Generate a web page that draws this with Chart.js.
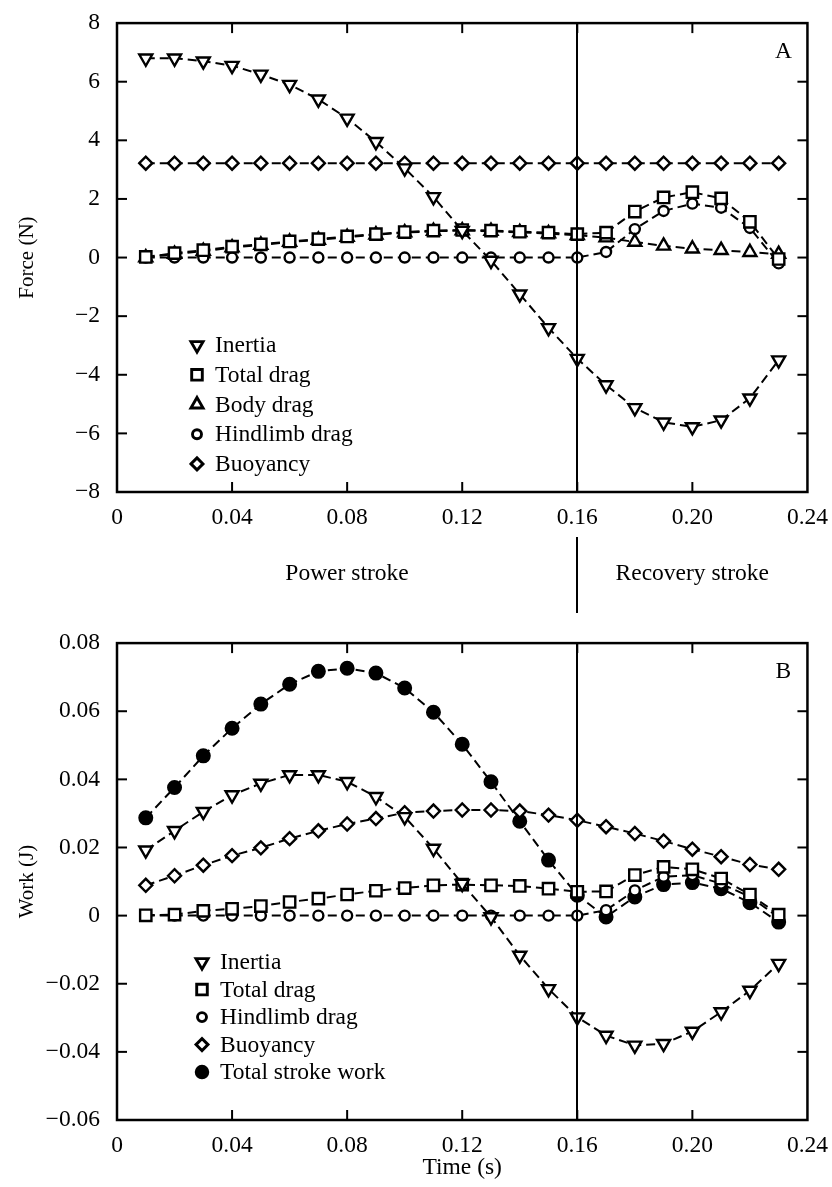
<!DOCTYPE html>
<html>
<head>
<meta charset="utf-8">
<script src="https://cdn.jsdelivr.net/npm/chart.js@4.4.0/dist/chart.umd.min.js"></script>
<style>
  html, body { margin: 0; padding: 0; background: #fff; }
  #wrap { position: relative; width: 832px; height: 1187px; }
  canvas { position: absolute; left: 0; }
  #forceChart { top: 0; }
  #workChart { top: 620px; }
</style>
</head>
<body>
<div id="wrap">
  <canvas id="forceChart" width="832" height="620"></canvas>
  <canvas id="workChart" width="832" height="567"></canvas>
</div>
<script>
// sample times (s)
const times = [0.01, 0.02, 0.03, 0.04, 0.05, 0.06, 0.07, 0.08, 0.09, 0.10, 0.11, 0.12,
               0.13, 0.14, 0.15, 0.16, 0.17, 0.18, 0.19, 0.20, 0.21, 0.22, 0.23];
const timeTicks = [0, 0.04, 0.08, 0.12, 0.16, 0.20, 0.24];
const forceTicks = [8, 6, 4, 2, 0, -2, -4, -6, -8];
const workTicks = [0.08, 0.06, 0.04, 0.02, 0, -0.02, -0.04, -0.06];
const strokeSplit = 0.16;
const strokeLabels = ['Power stroke', 'Recovery stroke'];

// A - forces (N)
const inertiaForce = [6.8, 6.8, 6.7, 6.55, 6.25, 5.9, 5.4, 4.75, 3.95, 3.05, 2.07, 0.92,
                      -0.1, -1.25, -2.4, -3.45, -4.35, -5.13, -5.62, -5.78, -5.55, -4.8, -3.5];
const totalDragForce = [0.02, 0.15, 0.25, 0.37, 0.45, 0.55, 0.63, 0.72, 0.8, 0.87, 0.92, 0.94,
                        0.92, 0.88, 0.85, 0.8, 0.85, 1.57, 2.05, 2.23, 2.02, 1.22, -0.05];
const bodyDragForce = [0.0, 0.12, 0.22, 0.34, 0.43, 0.53, 0.6, 0.7, 0.78, 0.85, 0.9, 0.92,
                       0.9, 0.86, 0.82, 0.76, 0.68, 0.53, 0.4, 0.3, 0.25, 0.18, 0.12];
const hindlimbForce = [0, 0, 0, 0, 0, 0, 0, 0, 0, 0, 0, 0,
                       0, 0, 0, 0, 0.19, 0.97, 1.59, 1.84, 1.7, 1.01, -0.2];
const buoyancyForce = [3.22, 3.22, 3.22, 3.22, 3.22, 3.22, 3.22, 3.22, 3.22, 3.22, 3.22, 3.22,
                       3.22, 3.22, 3.22, 3.22, 3.22, 3.22, 3.22, 3.22, 3.22, 3.22, 3.22];

// B - work (J)
const inertiaWork = [0.0192, 0.0249, 0.0305, 0.0354, 0.0388, 0.0413, 0.0413, 0.0393, 0.0349, 0.029, 0.0197, 0.0094,
                     -0.0004, -0.0117, -0.0215, -0.0298, -0.0352, -0.0381, -0.0376, -0.034, -0.0283, -0.022, -0.0141];
const totalDragWork = [0.0001, 0.0003, 0.0014, 0.002, 0.0028, 0.004, 0.005, 0.0062, 0.0073, 0.0081, 0.0089, 0.0091,
                       0.0089, 0.0087, 0.0079, 0.007, 0.0071, 0.0119, 0.0143, 0.0136, 0.0109, 0.0062, 0.0003];
const hindlimbWork = [0, 0, 0, 0, 0, 0, 0, 0, 0, 0, 0, 0,
                      0, 0, 0, 0, 0.0016, 0.0074, 0.0114, 0.0119, 0.0094, 0.0055, -0.0005];
const buoyancyWork = [0.0089, 0.0117, 0.0148, 0.0176, 0.0199, 0.0226, 0.0249, 0.0269, 0.0285, 0.0302, 0.0307, 0.031,
                      0.031, 0.0307, 0.0295, 0.028, 0.0261, 0.0241, 0.0219, 0.0195, 0.0173, 0.015, 0.0136];
const totalWork = [0.0287, 0.0376, 0.0469, 0.055, 0.0621, 0.0679, 0.0717, 0.0726, 0.0712, 0.0668, 0.0597, 0.0503,
                   0.0393, 0.0277, 0.0163, 0.006, -0.0004, 0.0055, 0.0091, 0.0097, 0.0079, 0.0038, -0.0019];

const FONT = "'Liberation Serif', 'Times New Roman', serif";
const FSIZE = 23.5;
const YTITLE_SIZE = 21;
const MINUS = '\u2212';

// marker styles
const DOWN = { pointStyle: 'triangle', pointRotation: 180, pointRadius: 7.5 };
const UP = { pointStyle: 'triangle', pointRadius: 7.5 };
const SQUARE = { pointStyle: 'rect', pointRadius: 8 };
const RING = { pointStyle: 'circle', pointRadius: 5 };
const DIAMOND = { pointStyle: 'rectRot', pointRadius: 6.5 };
const DOT = { pointStyle: 'circle', pointRadius: 6.3, pointBackgroundColor: '#000' };

function series(label, values, marker) {
    return Object.assign({
        label: label,
        data: times.map((t, i) => ({ x: t, y: values[i] })),
        borderColor: '#000',
        borderWidth: 2,
        borderDash: [9, 5],
        pointBorderColor: '#000',
        pointBackgroundColor: '#fff',
        pointBorderWidth: 2.4,
        tension: 0,
        fill: false
    }, marker);
}

function fmtTime(v) {
    return v === 0 ? '0' : v.toFixed(2);
}
function fmtForce(v) {
    return v < 0 ? MINUS + Math.abs(v) : String(v);
}
function fmtWork(v) {
    if (Math.abs(v) < 1e-9) return '0';
    return (v < 0 ? MINUS : '') + Math.abs(v).toFixed(2);
}

function line(ctx, x1, y1, x2, y2) {
    ctx.beginPath();
    ctx.moveTo(x1, y1);
    ctx.lineTo(x2, y2);
    ctx.stroke();
}

// box, inward ticks, stroke divider, panel letter, legend
const framePlugin = {
    id: 'frame',
    afterDatasetsDraw(chart, args, opts) {
        const ctx = chart.ctx;
        const a = chart.chartArea;
        const x = chart.scales.x, y = chart.scales.y;
        const sx = Math.round(x.getPixelForValue(strokeSplit));
        ctx.save();
        ctx.strokeStyle = '#000';
        ctx.lineWidth = 2;
        line(ctx, sx, a.top, sx, a.bottom);

        ctx.lineWidth = 2.5;
        ctx.strokeRect(a.left, a.top, a.right - a.left, a.bottom - a.top);

        ctx.lineWidth = 2;
        const tl = 10;
        x.ticks.forEach(t => {
            const px = x.getPixelForValue(t.value);
            if (px <= a.left + 1 || px >= a.right - 1) return;
            line(ctx, px, a.bottom, px, a.bottom - tl);
            line(ctx, px, a.top, px, a.top + tl);
        });
        y.ticks.forEach(t => {
            const py = y.getPixelForValue(t.value);
            if (py <= a.top + 1 || py >= a.bottom - 1) return;
            line(ctx, a.left, py, a.left + tl, py);
            line(ctx, a.right, py, a.right - tl, py);
        });

        ctx.fillStyle = '#000';
        ctx.font = FSIZE + 'px ' + FONT;
        ctx.textAlign = 'center';
        ctx.textBaseline = 'middle';
        ctx.fillText(opts.letter, a.right - 24, a.top + 29);

        if (opts.strokes) {
            line(ctx, sx, a.bottom + 45, sx, a.bottom + 121);
            ctx.fillText(strokeLabels[0], (a.left + sx) / 2, a.bottom + 82);
            ctx.fillText(strokeLabels[1], (sx + a.right) / 2, a.bottom + 82);
        }

        // legend
        const lg = opts.legend;
        ctx.textAlign = 'left';
        chart.data.datasets.forEach((ds, i) => {
            const px = a.left + lg.x;
            const py = a.top + lg.y + i * lg.step;
            ctx.fillStyle = ds.pointBackgroundColor;
            ctx.strokeStyle = '#000';
            ctx.lineWidth = 2.9;
            Chart.helpers.drawPoint(ctx, {
                pointStyle: ds.pointStyle,
                rotation: ds.pointRotation || 0,
                radius: ds.pointRadius - 0.5,
                borderWidth: 2.9
            }, px, py);
            ctx.fillStyle = '#000';
            ctx.fillText(ds.label, px + 18, py + 1);
        });
        ctx.restore();
    }
};

function makeChart(id, datasets, cfg) {
    const canvas = document.getElementById(id);
    return new Chart(canvas.getContext('2d'), {
        type: 'line',
        data: { datasets: datasets },
        options: {
            responsive: false,
            animation: false,
            events: [],
            layout: { padding: { left: 0, right: 23, top: cfg.top, bottom: 0 } },
            plugins: {
                legend: { display: false },
                tooltip: { enabled: false },
                frame: { letter: cfg.letter, strokes: cfg.strokes, legend: cfg.legend }
            },
            scales: {
                x: {
                    type: 'linear',
                    min: 0,
                    max: 0.24,
                    afterBuildTicks: s => { s.ticks = timeTicks.map(v => ({ value: v })); },
                    afterFit: s => { s.height = cfg.xHeight; },
                    grid: { display: false },
                    border: { display: false },
                    ticks: {
                        callback: v => fmtTime(v),
                        autoSkip: false,
                        maxRotation: 0,
                        padding: 4,
                        color: '#000',
                        font: { family: FONT, size: FSIZE }
                    },
                    title: {
                        display: !!cfg.xTitle,
                        text: cfg.xTitle || '',
                        color: '#000',
                        font: { family: FONT, size: FSIZE },
                        padding: { top: 0, bottom: 5 }
                    }
                },
                y: {
                    type: 'linear',
                    min: cfg.yTicks[cfg.yTicks.length - 1],
                    max: cfg.yTicks[0],
                    afterBuildTicks: s => { s.ticks = cfg.yTicks.map(v => ({ value: v })); },
                    afterFit: s => { s.width = 117; },
                    grid: { display: false },
                    border: { display: false },
                    ticks: {
                        callback: cfg.yFmt,
                        padding: 9,
                        color: '#000',
                        font: { family: FONT, size: FSIZE }
                    },
                    title: {
                        display: true,
                        text: cfg.yTitle,
                        color: '#000',
                        font: { family: FONT, size: YTITLE_SIZE },
                        padding: { top: 15, bottom: 0 }
                    }
                }
            }
        },
        plugins: [framePlugin]
    });
}

makeChart('forceChart', [
    series('Inertia', inertiaForce, DOWN),
    series('Total drag', totalDragForce, SQUARE),
    series('Body drag', bodyDragForce, UP),
    series('Hindlimb drag', hindlimbForce, RING),
    series('Buoyancy', buoyancyForce, DIAMOND)
], {
    top: 16, xHeight: 128, letter: 'A', strokes: true,
    yTicks: forceTicks, yFmt: fmtForce, yTitle: 'Force (N)',
    legend: { x: 80, y: 322, step: 29.7 }
});

makeChart('workChart', [
    series('Inertia', inertiaWork, DOWN),
    series('Total drag', totalDragWork, SQUARE),
    series('Hindlimb drag', hindlimbWork, RING),
    series('Buoyancy', buoyancyWork, DIAMOND),
    series('Total stroke work', totalWork, DOT)
], {
    top: 23, xHeight: 67, letter: 'B', strokes: false,
    yTicks: workTicks, yFmt: fmtWork, yTitle: 'Work (J)', xTitle: 'Time (s)',
    legend: { x: 85, y: 319, step: 27.5 }
});
</script>
</body>
</html>
